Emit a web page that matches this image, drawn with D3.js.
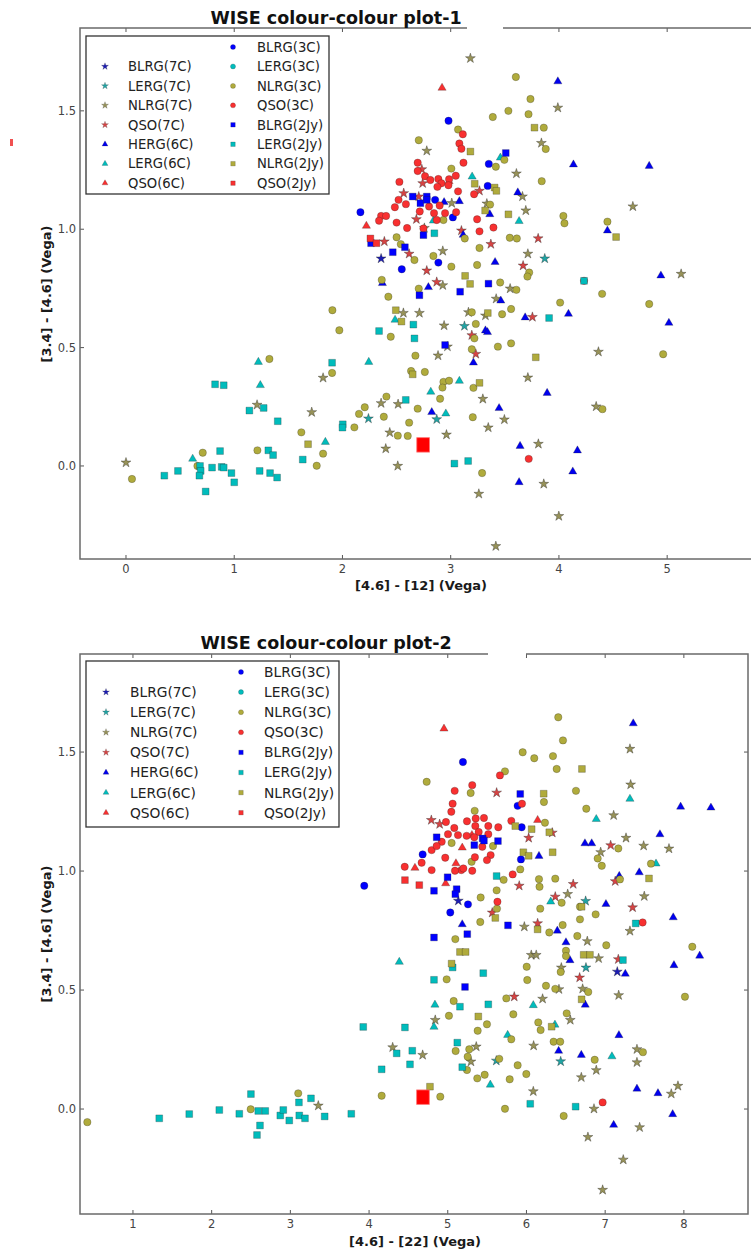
<!DOCTYPE html>
<html lang="en">
<head>
  <meta charset="UTF-8">
  <title>WISE colour-colour plots</title>
  <script src="https://d3js.org/d3.v7.min.js"></script>
  <style>
    body { margin: 0; background: #fff; }
    svg { display: block; font-family: "DejaVu Sans", sans-serif; }
    .tick-label { font-size: 11.5px; fill: #444; }
    .axis-label { font-size: 13px; font-weight: bold; fill: #1a1a1a; }
    .title { font-size: 17.5px; font-weight: bold; fill: #111; }
    .legend-text { fill: #222; }
  </style>
</head>
<body>
  <svg width="751" height="1254"></svg>

  <script>
    // ---- legend / categories ----
    const categories = ["BLRG(7C)", "LERG(7C)", "NLRG(7C)", "QSO(7C)",
                        "HERG(6C)", "LERG(6C)", "QSO(6C)",
                        "BLRG(3C)", "LERG(3C)", "NLRG(3C)", "QSO(3C)",
                        "BLRG(2Jy)", "LERG(2Jy)", "NLRG(2Jy)", "QSO(2Jy)"];

    // ---- plot 1 : [3.4]-[4.6] vs [4.6]-[12] ----
    const p1_blrg7c = [[2.357,0.876]];
    const p1_lerg7c = [[2.24,0.2],[3.127,0.591],[3.869,0.876],[2.871,0.197]];
    const p1_nlrg7c = [[0.0,0.014],[1.211,0.258],[1.716,0.227],[1.821,0.372],[3.182,1.722],[3.99,1.513],[2.779,1.331],
      [3.838,1.364],[3.607,1.235],[3.01,1.11],[3.663,1.138],[3.694,1.079],[3.334,1.108],[2.757,1.005],[2.927,0.908],
      [3.713,0.896],[2.927,0.763],[3.549,0.749],[4.683,1.096],[5.129,0.811],[2.563,0.646],[2.711,0.646],[2.939,0.593],
      [3.164,0.649],[3.321,0.635],[3.42,0.706],[2.97,0.504],[2.883,0.466],[3.713,0.373],[2.357,0.265],[2.514,0.261],
      [3.297,0.283],[3.496,0.196],[3.347,0.162],[2.961,0.132],[2.437,0.141],[2.4,0.073],[2.511,0.0],[3.81,0.093],
      [4.344,0.251],[4.365,0.482],[3.86,-0.076],[3.26,-0.118],[3.999,-0.212],[3.417,-0.339]];
    const p1_qso7c = [[2.733,1.253],[2.741,1.194],[3.266,1.162],[2.566,1.152],[2.705,1.138],[2.683,1.042],[2.387,0.948],
      [2.616,0.896],[3.099,0.994],[3.371,0.937],[3.808,0.961],[2.779,0.825],[2.871,0.777],[3.669,0.846],[3.195,0.552],
      [3.232,0.473],[3.755,0.629]];
    const p1_herg6c = [[3.99,1.624],[4.134,1.273],[4.834,1.267],[2.939,1.114],[3.08,1.118],[3.62,1.155],[3.361,1.063],
      [3.115,0.976],[3.41,0.861],[4.942,0.804],[4.448,0.994],[2.794,0.755],[2.369,0.772],[3.463,0.698],[3.321,0.572],
      [3.34,0.565],[3.21,0.436],[3.688,0.627],[4.088,0.642],[5.016,0.604],[3.891,0.308],[2.825,0.227],[3.447,0.244],
      [3.641,0.084],[4.171,0.065],[4.128,-0.024],[3.632,-0.069]];
    const p1_lerg6c = [[0.616,0.03],[1.223,0.439],[1.241,0.341],[1.842,0.101],[2.243,0.439],[3.459,1.302],[3.198,1.222],
      [3.632,1.034],[2.84,1.036],[2.486,0.617],[3.08,0.359],[2.816,0.313],[2.955,0.221]];
    const p1_qso6c = [[2.92,1.597],[2.985,1.202],[2.221,1.014]];
    const p1_blrg3c = [[2.166,1.072],[2.98,1.458],[3.352,1.276],[3.342,1.183],[2.856,1.124],[3.02,1.05],[2.886,0.859],
      [2.548,0.831]];
    const p1_lerg3c = [];
    const p1_nlrg3c = [[0.055,-0.055],[0.709,0.056],[0.66,0.0],[1.214,0.066],[1.325,0.452],[1.62,0.142],[1.762,0.001],
      [1.821,0.052],[1.907,0.658],[1.971,0.573],[1.904,0.393],[2.11,0.163],[2.153,0.22],[2.206,0.248],[3.602,1.643],
      [3.737,1.55],[3.533,1.5],[3.389,1.474],[3.719,1.486],[3.86,1.429],[3.068,1.421],[2.705,1.376],[3.878,1.339],
      [3.496,1.293],[3.417,1.264],[3.006,1.256],[3.841,1.203],[3.364,1.104],[2.933,1.039],[3.13,0.961],[2.5,0.966],
      [2.539,0.937],[3.546,0.964],[3.611,0.961],[3.266,0.921],[2.665,0.87],[2.84,0.887],[3.006,0.842],[3.244,0.849],
      [3.457,0.775],[3.725,0.817],[3.709,0.8],[2.705,0.749],[2.424,0.715],[4.041,1.056],[4.051,1.025],[4.448,1.032],
      [4.399,0.727],[3.607,0.744],[2.363,0.786],[2.446,0.546],[3.232,0.6],[3.195,0.649],[3.475,0.641],[3.558,0.663],
      [3.219,0.539],[3.195,0.493],[2.674,0.466],[3.436,0.504],[3.558,0.518],[4.011,0.69],[4.834,0.684],[4.963,0.472],
      [2.634,0.401],[2.761,0.397],[2.933,0.355],[2.985,0.36],[2.924,0.331],[3.21,0.33],[2.406,0.293],[2.902,0.284],
      [2.695,0.242],[2.382,0.208],[2.616,0.183],[3.204,0.206],[4.402,0.24],[2.511,0.128],[2.603,0.127],[3.29,-0.03]];
    const p1_qso3c = [[3.112,1.401],[3.08,1.362],[3.099,1.34],[2.695,1.281],[3.118,1.281],[2.695,1.246],[2.763,1.224],
      [2.812,1.208],[3.047,1.226],[2.985,1.211],[2.886,1.212],[2.526,1.2],[2.914,1.194],[2.877,1.179],[2.979,1.186],
      [3.068,1.16],[3.216,1.148],[2.484,1.093],[2.518,1.124],[2.586,1.106],[2.8,1.096],[2.898,1.1],[2.846,1.068],
      [2.948,1.068],[2.714,1.075],[3.05,1.072],[2.357,1.056],[2.403,1.056],[2.338,1.036],[2.5,1.028],[2.597,1.005],
      [2.748,1.003],[2.871,1.039],[3.244,1.042],[3.266,0.991],[3.395,1.007],[4.232,0.782],[3.721,0.03]];
    const p1_blrg2jy = [[2.264,0.941],[3.509,1.322],[2.649,1.138],[2.779,1.138],[2.72,1.11],[2.779,1.124],[2.748,0.975],
      [2.577,0.924],[2.465,0.903],[3.349,0.77],[3.087,0.736],[2.711,0.721],[2.948,0.511]];
    const p1_lerg2jy = [[0.354,-0.041],[0.48,-0.021],[0.684,0.0],[0.69,-0.021],[0.678,-0.041],[0.736,-0.108],[0.795,-0.007],
      [0.823,0.345],[0.903,0.341],[0.869,0.063],[0.884,-0.004],[0.903,-0.007],[0.974,-0.03],[1.0,-0.069],[1.14,0.234],
      [1.272,0.245],[1.402,0.189],[1.235,-0.021],[1.315,0.066],[1.359,0.046],[1.331,-0.03],[1.396,-0.049],[1.633,0.027],
      [1.904,0.436],[2.003,0.176],[2.0,0.162],[2.849,0.983],[4.232,0.782],[2.655,0.597],[2.338,0.57],[2.665,0.539],
      [3.909,0.625],[2.585,0.279],[3.034,0.01],[3.161,0.021]];
    const p1_nlrg2jy = [[1.682,0.092],[3.774,1.429],[3.182,1.328],[3.222,1.192],[3.406,1.176],[3.422,1.162],[3.318,1.079],
      [3.533,1.063],[3.133,0.803],[3.179,0.769],[4.528,0.967],[2.493,0.658],[2.545,0.61],[3.343,0.646],[3.786,0.459],
      [2.649,0.387],[3.266,0.351]];
    const p1_qso2jy = [[2.258,0.961],[2.314,0.941]];
    const p1_highlight = [[2.745,0.089]];

    // ---- plot 2 : [3.4]-[4.6] vs [4.6]-[22] ----
    const p2_blrg7c = [[7.154,0.577],[5.134,0.875]];
    const p2_lerg7c = [[5.617,0.203],[6.435,0.2],[6.756,0.594],[6.752,0.874]];
    const p2_nlrg7c = [[3.355,0.014],[4.841,0.374],[4.3,0.259],[4.681,0.227],[5.295,0.199],[5.362,0.262],[6.061,0.647],
      [6.124,0.647],[6.413,0.503],[6.205,0.463],[6.091,0.266],[6.557,0.374],[6.443,0.594],[6.773,0.705],[6.917,0.633],
      [6.714,0.505],[7.172,0.478],[7.404,0.251],[7.404,0.196],[6.887,0.163],[6.697,0.133],[7.84,0.064],[7.925,0.097],
      [6.858,0.001],[7.438,-0.077],[6.781,-0.118],[7.23,-0.213],[6.968,-0.34],[6.087,0.074],[7.315,1.513],[7.324,1.363],
      [7.108,1.234],[6.943,1.079],[7.265,1.139],[7.489,1.106],[7.811,1.094],[6.524,0.903],[7.497,0.894],[5.973,0.766],
      [7.315,0.748]];
    const p2_qso7c = [[5.845,0.472],[6.676,0.552],[7.167,0.629],[5.621,1.329],[4.791,1.214],[4.897,1.197],[5.908,0.938],
      [6.028,1.139],[6.594,0.945],[6.366,0.892],[5.565,0.825],[6.328,1.161],[7.07,1.108],[7.128,0.957],[7.349,0.847],
      [6.142,0.78]];
    const p2_herg6c = [[6.409,0.244],[6.502,0.7],[6.553,0.625],[6.747,0.438],[7.256,0.568],[7.874,0.604],[8.201,0.644],
      [7.175,0.31],[6.697,0.227],[7.404,0.085],[7.671,0.066],[7.858,-0.022],[7.108,-0.067],[7.357,1.62],[6.159,1.063],
      [6.743,1.116],[6.829,1.116],[7.696,1.154],[7.959,1.27],[8.344,1.266],[7.179,0.979],[7.433,0.994],[7.01,0.861],
      [7.865,0.805],[5.184,0.776],[6.392,0.749]];
    const p2_lerg6c = [[4.384,0.618],[4.837,0.438],[4.825,0.345],[5.541,0.102],[5.761,0.311],[6.087,0.436],[6.362,0.354],
      [7.086,0.221],[6.887,1.218],[7.315,1.303],[7.646,1.031],[6.308,0.871]];
    const p2_qso6c = [[4.952,1.598],[4.583,1.013],[5.184,1.098],[5.104,1.032],[4.973,0.948],[5.307,1.151],[6.142,1.214]];
    const p2_blrg3c = [[3.939,0.938],[5.193,1.458],[5.888,1.274],[4.681,1.07],[5.939,1.184],[5.93,1.049],[5.257,0.86],
      [5.032,0.826]];
    const p2_lerg3c = [];
    const p2_nlrg3c = [[0.42,-0.055],[2.496,-0.001],[3.1,0.066],[5.096,0.714],[4.986,0.545],[5.075,0.454],[5.015,0.392],
      [5.498,0.356],[5.38,0.329],[5.1,0.244],[5.273,0.251],[5.253,0.22],[5.244,0.164],[5.375,0.129],[5.469,0.144],
      [5.787,0.125],[5.888,0.184],[5.998,0.147],[5.654,0.211],[5.807,0.293],[5.744,0.465],[5.833,0.398],[6.003,0.598],
      [6.01,0.542],[6.248,0.518],[6.366,0.505],[6.15,0.364],[6.18,0.332],[6.345,0.283],[6.429,0.283],[6.511,0.402],
      [6.502,0.665],[6.502,0.643],[6.435,0.576],[6.646,0.727],[7.014,0.688],[6.785,0.492],[8.107,0.682],[8.014,0.472],
      [7.48,0.239],[6.867,0.207],[6.473,-0.029],[5.727,0.001],[4.905,0.052],[4.16,0.056],[6.404,1.646],[6.464,1.549],
      [5.952,1.499],[6.099,1.474],[6.337,1.483],[6.384,1.429],[4.732,1.375],[5.727,1.419],[5.291,1.328],[6.222,1.29],
      [6.629,1.337],[5.342,1.253],[5.049,1.118],[5.303,1.039],[5.575,1.105],[6.235,1.203],[6.76,1.262],[7.167,1.095],
      [6.905,1.053],[6.957,1.022],[7.582,1.031],[5.921,1.007],[5.71,0.963],[5.621,0.919],[6.159,0.966],[6.166,0.934],
      [6.366,0.968],[5.418,0.889],[6.175,0.842],[6.447,0.867],[6.68,0.85],[6.879,0.818],[5.625,0.842],[5.413,0.786],
      [6.46,0.773],[7.188,0.965],[6.68,0.797],[6.29,0.742]];
    const p2_qso3c = [[6.968,0.028],[7.476,0.784],[5.663,1.402],[5.311,1.361],[5.088,1.337],[5.943,1.283],[5.062,1.283],
      [5.045,1.249],[4.977,1.206],[5.083,1.181],[5.244,1.209],[5.355,1.221],[5.46,1.223],[5.807,1.211],[5.642,1.184],
      [5.515,1.189],[5.35,1.189],[5.393,1.164],[5.515,1.155],[5.337,1.142],[5.24,1.148],[5.13,1.151],[5.003,1.155],
      [4.923,1.123],[4.795,1.088],[4.859,1.105],[4.968,1.056],[5.172,1.004],[5.092,1.001],[5.198,1.011],[5.311,1.001],
      [5.345,1.058],[5.439,1.102],[5.545,1.067],[5.498,1.046],[4.453,1.018],[4.668,1.035],[4.795,1.004],[5.631,0.871],
      [5.825,0.986]];
    const p2_blrg2jy = [[4.825,0.721],[5.248,0.735],[5.219,0.513],[5.921,1.324],[4.859,1.142],[5.337,1.109],[5.443,1.137],
      [5.46,1.128],[5.638,1.126],[4.998,0.974],[4.825,0.917],[5.113,0.924],[5.096,0.903],[5.765,0.772]];
    const p2_lerg2jy = [[1.334,-0.039],[1.715,-0.021],[2.097,-0.004],[2.351,-0.02],[2.499,0.063],[2.592,-0.008],[2.681,-0.008],
      [2.614,-0.069],[2.576,-0.109],[2.872,-0.027],[2.91,-0.004],[2.986,-0.048],[3.109,0.028],[3.113,-0.027],[3.186,-0.039],
      [3.262,0.045],[3.436,-0.031],[3.774,-0.02],[3.926,0.345],[5.062,0.595],[5.451,0.571],[4.825,0.543],[5.155,0.43],
      [5.515,0.44],[4.456,0.343],[4.549,0.245],[4.351,0.234],[4.52,0.188],[4.16,0.167],[5.121,0.279],[5.184,0.176],
      [6.625,0.01],[6.048,0.022],[7.226,0.626],[5.621,0.979],[7.388,0.78]];
    const p2_nlrg2jy = [[5.155,0.66],[5.227,0.66],[5.049,0.611],[5.388,0.389],[6.32,0.346],[6.727,0.648],[6.807,0.648],
      [6.701,0.461],[4.774,0.094],[6.705,1.429],[6.219,1.325],[5.858,1.189],[6.066,1.176],[6.29,1.163],[5.96,1.079],
      [6.028,1.064],[6.333,1.079],[5.604,0.803],[6.701,0.85],[7.557,0.969],[6.142,0.755]];
    const p2_qso2jy = [[4.456,0.962],[4.638,0.941]];
    const p2_highlight = [[4.685,0.05]];

    const xTicks1 = [0, 1, 2, 3, 4, 5];
    const xTicks2 = [1, 2, 3, 4, 5, 6, 7, 8];
    const yTicks = [0.0, 0.5, 1.0, 1.5];

    // ---- styling ----
    const baseColor = { BLRG: "#0000ff", HERG: "#0000ee", LERG: "#00bcbc", NLRG: "#b0ab3c", QSO: "#f83030" };
    const starColor = { BLRG: "#1c1cb4", LERG: "#20a4a4", NLRG: "#979259", QSO: "#d64444" };
    const shapeOf = { "7C": d3.symbolStar, "6C": d3.symbolTriangle, "3C": d3.symbolCircle, "2Jy": d3.symbolSquare };
    const sizeOf = { "7C": 30, "6C": 29, "3C": 43, "2Jy": 46 };
    const legendSize = { "7C": 15, "6C": 15, "3C": 20, "2Jy": 20 };

    function parseCat(name) {
      const m = name.match(/^(\w+)\((\w+)\)$/);
      return { cls: m[1], survey: m[2] };
    }
    function colorOf(name) {
      const c = parseCat(name);
      return c.survey === "7C" ? starColor[c.cls] : baseColor[c.cls];
    }

    const panels = [
      {
        series: [p1_blrg7c, p1_lerg7c, p1_nlrg7c, p1_qso7c, p1_herg6c, p1_lerg6c, p1_qso6c,
                 p1_blrg3c, p1_lerg3c, p1_nlrg3c, p1_qso3c, p1_blrg2jy, p1_lerg2jy, p1_nlrg2jy, p1_qso2jy],
        highlight: p1_highlight,
        left: 80, right: 757, top: 28, bottom: 559,
        xDomain: [-0.425, 5.83], yDomain: [-0.393, 1.85], xTicks: xTicks1,
        title: "WISE colour-colour plot-1", titleX: 336, titleY: 24,
        xlabel: "[4.6] - [12] (Vega)", xlabelX: 421, xlabelY: 590, ylabelY: 294,
        legend: { x: 86, y: 36, w: 243, h: 158, row0: 47, step: 19.45, m1: 105, t1: 128, m2: 233, t2: 257, font: 13.2 },
        gap: [467, 503]
      },
      {
        series: [p2_blrg7c, p2_lerg7c, p2_nlrg7c, p2_qso7c, p2_herg6c, p2_lerg6c, p2_qso6c,
                 p2_blrg3c, p2_lerg3c, p2_nlrg3c, p2_qso3c, p2_blrg2jy, p2_lerg2jy, p2_nlrg2jy, p2_qso2jy],
        highlight: p2_highlight,
        left: 80, right: 748, top: 654, bottom: 1214,
        xDomain: [0.327, 8.815], yDomain: [-0.441, 1.912], xTicks: xTicks2,
        title: "WISE colour-colour plot-2", titleX: 326, titleY: 649,
        xlabel: "[4.6] - [22] (Vega)", xlabelX: 415, xlabelY: 1246, ylabelY: 934,
        legend: { x: 86, y: 661, w: 253, h: 166, row0: 672, step: 20.1, m1: 106, t1: 130, m2: 241, t2: 264, font: 13.8 },
        gap: [488, 526]
      }
    ];

    const svg = d3.select("svg");
    svg.append("rect").attr("width", 751).attr("height", 1254).attr("fill", "#fff");

    panels.forEach((p, pi) => {
      const x = d3.scaleLinear().domain(p.xDomain).range([p.left, p.right]);
      const y = d3.scaleLinear().domain(p.yDomain).range([p.bottom, p.top]);
      const g = svg.append("g");

      const clipId = "clip" + pi;
      g.append("clipPath").attr("id", clipId)
        .append("rect").attr("x", p.left).attr("y", p.top)
        .attr("width", p.right - p.left).attr("height", p.bottom - p.top);

      // points, legend order = drawing order
      const pts = g.append("g").attr("clip-path", `url(#${clipId})`);
      categories.forEach((name, i) => {
        const c = parseCat(name);
        const sym = d3.symbol().type(shapeOf[c.survey]).size(sizeOf[c.survey]);
        pts.append("g").selectAll("path")
          .data(p.series[i])
          .enter().append("path")
          .attr("d", sym)
          .attr("transform", d => `translate(${x(d[0])},${y(d[1])})`)
          .attr("fill", colorOf(name))
          .attr("stroke", "#222")
          .attr("stroke-opacity", c.survey === "7C" ? 0.6 : 0.45)
          .attr("stroke-width", 0.6);
      });

      // the large red QSO(2Jy) square
      pts.selectAll("rect.hl")
        .data(p.highlight)
        .enter().append("rect")
        .attr("class", "hl")
        .attr("x", d => x(d[0]) - 6.3)
        .attr("y", d => y(d[1]) - 7.2)
        .attr("width", 12.6).attr("height", 14.4)
        .attr("fill", "#ff0000")
        .attr("stroke", "#ff7070").attr("stroke-width", 0.8);

      // ticks (inward, all sides)
      const tickColor = "#555", tl = 4;
      p.xTicks.forEach(t => {
        const px = x(t);
        if (px > 751) return;
        g.append("line").attr("x1", px).attr("x2", px).attr("y1", p.bottom).attr("y2", p.bottom - tl)
          .attr("stroke", tickColor);
        g.append("line").attr("x1", px).attr("x2", px).attr("y1", p.top).attr("y2", p.top + tl)
          .attr("stroke", tickColor);
        g.append("text").attr("class", "tick-label").attr("x", px).attr("y", p.bottom + 14)
          .attr("text-anchor", "middle").text(d3.format("d")(t));
      });
      yTicks.forEach(t => {
        const py = y(t);
        g.append("line").attr("x1", p.left).attr("x2", p.left + tl).attr("y1", py).attr("y2", py)
          .attr("stroke", tickColor);
        g.append("line").attr("x1", p.right).attr("x2", p.right - tl).attr("y1", py).attr("y2", py)
          .attr("stroke", tickColor);
        g.append("text").attr("class", "tick-label").attr("x", p.left - 4).attr("y", py + 4)
          .attr("text-anchor", "end").text(d3.format(".1f")(t));
      });

      // frame
      g.append("rect").attr("x", p.left).attr("y", p.top)
        .attr("width", p.right - p.left).attr("height", p.bottom - p.top)
        .attr("fill", "none").attr("stroke", "#6a6a6a").attr("stroke-width", 1.5);

      // white patch on the top spine (as in the source image)
      g.append("rect").attr("x", p.gap[0]).attr("y", p.top - 3)
        .attr("width", p.gap[1] - p.gap[0]).attr("height", 6).attr("fill", "#fff");

      // legend
      const L = p.legend;
      g.append("rect").attr("x", L.x).attr("y", L.y).attr("width", L.w).attr("height", L.h)
        .attr("fill", "#fff").attr("stroke", "#333").attr("stroke-width", 1.3);
      categories.forEach((name, i) => {
        const slot = i + 1;              // first slot of column 1 is left empty
        const col = slot < 8 ? 0 : 1;
        const row = slot % 8;
        const cy = L.row0 + row * L.step;
        const c = parseCat(name);
        const mx = col === 0 ? L.m1 : L.m2;
        const tx = col === 0 ? L.t1 : L.t2;
        g.append("path")
          .attr("d", d3.symbol().type(shapeOf[c.survey]).size(legendSize[c.survey]))
          .attr("transform", `translate(${mx},${cy})`)
          .attr("fill", colorOf(name))
          .attr("stroke", "#222").attr("stroke-opacity", 0.4).attr("stroke-width", 0.5);
        g.append("text").attr("class", "legend-text")
          .attr("x", tx).attr("y", cy + L.font * 0.36)
          .style("font-size", L.font + "px")
          .text(name);
      });

      // labels
      g.append("text").attr("class", "title")
        .attr("x", p.titleX).attr("y", p.titleY).attr("text-anchor", "middle").text(p.title);
      g.append("text").attr("class", "axis-label")
        .attr("x", p.xlabelX).attr("y", p.xlabelY).attr("text-anchor", "middle").text(p.xlabel);
      g.append("text").attr("class", "axis-label")
        .attr("transform", `translate(51,${p.ylabelY}) rotate(-90)`)
        .attr("text-anchor", "middle").text("[3.4] - [4.6] (Vega)");
    });

    // small red speck at the left margin of the source image
    svg.append("rect").attr("x", 10).attr("y", 139).attr("width", 3).attr("height", 7).attr("fill", "#f05050");
  </script>
</body>
</html>
